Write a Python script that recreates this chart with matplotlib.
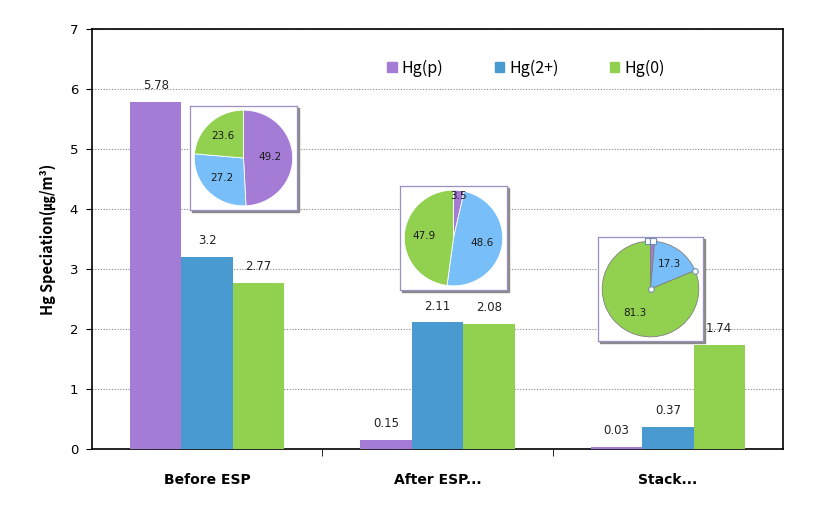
import matplotlib.pyplot as plt
import matplotlib.patches as mpatches
import numpy as np

categories = ["Before ESP", "After ESP...", "Stack..."]
series_names = ["Hg(p)", "Hg(2+)", "Hg(0)"]
hg_p = [5.78, 0.15, 0.03]
hg_2 = [3.2, 2.11, 0.37]
hg_0 = [2.77, 2.08, 1.74]

# percentage shares shown in the small pies
pie_before = [49.2, 27.2, 23.6]
pie_after = [3.5, 48.6, 47.9]
pie_stack = [1.4, 17.3, 81.3]
pie_labels_before = ["49.2", "27.2", "23.6"]
pie_labels_after = ["3.5", "48.6", "47.9"]
pie_labels_stack = ["", "17.3", "81.3"]

bar_colors = ["#A47CD6", "#4A9AD2", "#92D050"]
pie_colors = ["#A47CD6", "#78BEF8", "#92D050"]

W, H = 825, 526
fig = plt.figure(figsize=(W / 100, H / 100), dpi=100)
ax = fig.add_axes([92 / W, 1 - 449 / H, (783 - 92) / W, (449 - 29) / H])

x = np.arange(len(categories))
bw = 0.223
for i, (vals, col) in enumerate(zip([hg_p, hg_2, hg_0], bar_colors)):
    pos = x + (i - 1) * bw
    ax.bar(pos, vals, width=bw, color=col, zorder=3, label=series_names[i])
    for px, v in zip(pos, vals):
        ax.annotate(f"{v:g}", (px, v), xytext=(0, 7), textcoords="offset points",
                    ha="center", va="bottom", fontsize=8.5, color="#222222")

ax.set_xlim(-0.5, 2.5)
ax.set_ylim(0, 7)
ax.set_yticks(range(0, 8))
ax.set_xticks(x)
ax.set_xticklabels(categories, fontsize=10, fontweight="bold")
ax.set_xticks([0.5, 1.5], minor=True)
ax.tick_params(axis="x", which="major", length=0, pad=17)
ax.tick_params(axis="x", which="minor", length=5, direction="out")
ax.tick_params(axis="y", length=4, direction="out", labelsize=9.5, pad=6)
ax.yaxis.grid(True, linestyle=(0, (1, 1.5)), color="#888888", linewidth=0.8, zorder=0)
for s in ax.spines.values():
    s.set_color("black")
    s.set_linewidth(1.2)

ax.set_ylabel("Hg Speciation(㎍/m³)", fontsize=10.5, fontweight="bold",
              family=["Noto Sans CJK KR", "DejaVu Sans"], labelpad=10)

handles = [mpatches.Patch(color=c, label=n) for c, n in zip(bar_colors, series_names)]
ax.legend(handles=handles, loc="center", bbox_to_anchor=(0.628, 0.907), ncol=3,
          frameon=False, handlelength=0.6, handleheight=0.6,
          handletextpad=0.3, columnspacing=3.2,
          prop={"family": ["Noto Sans CJK KR", "DejaVu Sans"], "size": 11.5})


def draw_pie(box, shares, labels, label_r, handles_on=False):
    x0, y0, x1, y1 = box
    # shadow
    fig.patches.append(mpatches.Rectangle(((x0 + 2) / W, 1 - (y1 + 2) / H),
                                          (x1 - x0) / W, (y1 - y0) / H,
                                          transform=fig.transFigure,
                                          color="#8a8a8a", zorder=4))
    pax = fig.add_axes([x0 / W, 1 - y1 / H, (x1 - x0) / W, (y1 - y0) / H], zorder=5)
    pax.pie(shares, colors=pie_colors, startangle=90, counterclock=False,
            radius=0.92, wedgeprops={"edgecolor": "#7f7f7f" if handles_on else "white",
                                     "linewidth": 0.6})
    ang = 90.0
    for share, lab, r in zip(shares, labels, label_r):
        mid = np.deg2rad(ang - share * 3.6 / 2)
        ang -= share * 3.6
        if lab:
            pax.text(r * np.cos(mid), r * np.sin(mid), lab, ha="center", va="center",
                     fontsize=7.5, color="#1a1a1a")
    if handles_on:
        # selection handles left on the original picture
        a2 = np.deg2rad(90 - (shares[0] + shares[1]) * 3.6)
        pax.plot([0, 0.92 * np.cos(a2)], [0, 0.92 * np.sin(a2)], "o", ms=4,
                 mfc="white", mec="#6f8fb0", mew=0.8)
        pax.plot([-0.04, 0.04], [0.92, 0.92], "s", ms=4, mfc="white", mec="#6f8fb0", mew=0.8)
    pax.set_frame_on(True)
    pax.set_facecolor("white")
    pax.set_xlim(-1, 1)
    pax.set_ylim(-1, 1)
    pax.set_aspect("auto")
    pax.set_xticks([])
    pax.set_yticks([])
    for s in pax.spines.values():
        s.set_visible(True)
        s.set_color("#9d8fc4")
        s.set_linewidth(0.9)


draw_pie((190, 106, 297, 210), pie_before, pie_labels_before, [0.5, 0.55, 0.58])
draw_pie((400, 186, 507, 290), pie_after, pie_labels_after, [0.82, 0.55, 0.55])
draw_pie((598, 237, 703, 341), pie_stack, pie_labels_stack, [0.5, 0.6, 0.55], handles_on=True)

fig.savefig("out.png", dpi=100)
